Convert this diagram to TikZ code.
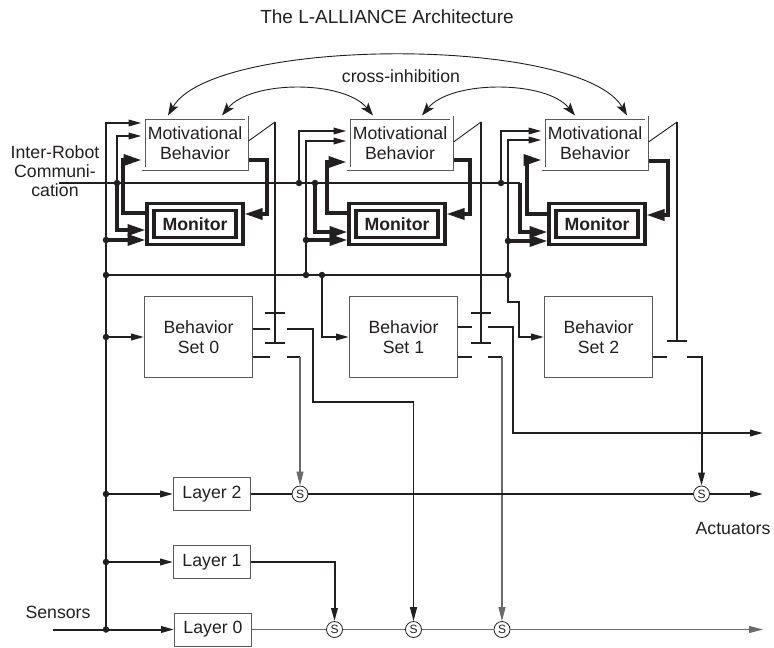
\documentclass[tikz,border=0pt]{standalone}
\usepackage{fontspec}
\setmainfont{Liberation Sans}
\usetikzlibrary{arrows.meta,positioning,calc}
\definecolor{boxgray}{HTML}{5A5A5A}
\definecolor{wiregray}{HTML}{6A6A6A}
\definecolor{inkblack}{HTML}{231F20}

\begin{document}
\begin{tikzpicture}[x=1pt,y=-1pt,
    every node/.style={font=\fontsize{17.7}{20.5}\selectfont,text=inkblack},
    motiv/.style={draw=boxgray,line width=0.8pt,double,double distance=2.4pt,
                  minimum width=103pt,minimum height=51pt,align=center,outer sep=2pt},
    monitor/.style={draw=inkblack,line width=3.4pt,double,double distance=3.4pt,
                    minimum width=89pt,minimum height=34pt,outer sep=5pt,
                    font=\fontsize{17.7}{20.5}\selectfont\bfseries},
    bset/.style={draw=boxgray,line width=0.9pt,minimum width=108pt,minimum height=81pt,align=center},
    layer/.style={draw=boxgray,line width=0.9pt,minimum width=77pt,minimum height=33pt},
    sw/.style={draw=inkblack,circle,line width=0.8pt,minimum size=16pt,inner sep=0pt,
               font=\fontsize{12}{12}\selectfont},
    dot/.style={circle,fill=inkblack,minimum size=6.5pt,inner sep=0pt},
    wire/.style={inkblack,line width=2pt},
    fine/.style={wiregray,line width=1.1pt},
    heavy/.style={inkblack,line width=3.5pt},
    arr/.style={wire,-{Triangle[length=13pt,width=6.5pt]}},
    finearr/.style={fine,-{Triangle[length=14pt,width=7pt]}},
    heavyarr/.style={heavy,-{Triangle[length=18pt,width=11pt]}},
    inhib/.style={inkblack,line width=0.9pt,
                  {Stealth[length=13pt,width=9pt,inset=3pt]}-{Stealth[length=13pt,width=9pt,inset=3pt]}}
  ]
    \path[use as bounding box] (0,0) rectangle (774,648);
    \node[font=\fontsize{19}{22}\selectfont] (title) at (387,17) {The L-ALLIANCE Architecture};

    % motivational behaviors and monitors
    \node[motiv] (mb0) at (195,143) {Motivational\\Behavior};
    \node[motiv] (mb1) at (400,143) {Motivational\\Behavior};
    \node[motiv] (mb2) at (595,143) {Motivational\\Behavior};
    \node[monitor] (mon0) at (195,224) {Monitor};
    \node[monitor] (mon1) at (397,224) {Monitor};
    \node[monitor] (mon2) at (597,224) {Monitor};

    % behavior sets and layers
    \node[bset] (bs0) at (198.5,337) {Behavior\\Set 0};
    \node[bset] (bs1) at (403.5,337) {Behavior\\Set 1};
    \node[bset] (bs2) at (598.5,337) {Behavior\\Set 2};
    \node[layer] (l2) at (212,494) {Layer 2};
    \node[layer] (l1) at (212,562) {Layer 1};
    \node[layer] (l0) at (213,629.5) {Layer 0};

    \node[sw] (s2a) at (300,494) {S};
    \node[sw] (s2b) at (701.5,494) {S};
    \node[sw] (s0a) at (334.5,629.5) {S};
    \node[sw] (s0b) at (413.5,629.5) {S};
    \node[sw] (s0c) at (502,629.5) {S};

    % labels
    \node[align=center,font=\fontsize{17.7}{19}\selectfont] (irc) at (55,171) {Inter-Robot\\Communi-\\cation};
    \node (sens) at (58,612) {Sensors};
    \node (act) at (733,528) {Actuators};
    \node (xinh) at (401,76) {cross-inhibition};

    % junctions
    \node[dot] (sb0) at (106,240) {};
    \node[dot] (sb1) at (106,275) {};
    \node[dot] (sb2) at (106,337) {};
    \node[dot] (sb3) at (106,494) {};
    \node[dot] (sb4) at (106,562) {};
    \node[dot] (sb5) at (106,629.5) {};
    \node[dot] (cm0) at (117,183) {};
    \node[dot] (cm1) at (299,183) {};
    \node[dot] (cm2) at (315,183) {};
    \node[dot] (cm3) at (501,183) {};
    \node[dot] (bu1) at (306,275) {};
    \node[dot] (bu2) at (322,275) {};
    \node[dot] (bu3) at (508,275) {};
    \node[dot] (bu1m) at (306,240) {};
    \node[dot] (bu3m) at (508,241) {};

    \coordinate (commin) at (59,183);
    \coordinate (commend) at (520,183);
    \coordinate (sensin) at (53,629.5);
    \coordinate (sbtop) at (106,123);
    \coordinate (ih0) at (275,122);
    \coordinate (ih1) at (481,122);
    \coordinate (ih2) at (677,122);
    \coordinate (out1) at (763,433);
    \coordinate (out2) at (763,494);
    \coordinate (out0) at (763,629.5);

    % sensor and communication buses
    \draw[arr] (sensin) -- (l0);
    \draw[arr] (sb5.center) -- (sbtop) -- (sbtop -| mb0.west);
    \draw[wire] (commin) -- (commend);
    \draw[wire] (sb1.center) -- (bu3.center);

    % behavior set 0
    \draw[arr] (cm0.center) |- (mb0.west |- 0,136);
    \draw[heavyarr] (cm0.center) |- (mon0.west |- 0,230);
    \draw[heavyarr] (sb0.center) -- (mon0.west |- sb0);
    \draw[arr] (sb2.center) -- (bs0.west |- sb2);
    \draw[heavyarr] (mb0.east |- 0,160) -| (267,214) -- (mon0.east |- 0,214);
    \draw[heavyarr] (mon0.west |- 0,213) -| (123,160) -- (mb0.west |- 0,160);

    % behavior set 1
    \draw[arr] (cm1.center) |- (mb1.west |- 0,131);
    \draw[arr] (bu1.center) |- (mb1.west |- 0,141);
    \draw[heavyarr] (bu1m.center) -- (mon1.west |- bu1m);
    \draw[heavyarr] (cm2.center) |- (mon1.west |- 0,232);
    \draw[arr] (bu2.center) |- (bs1.west |- 0,337);
    \draw[heavyarr] (mb1.east |- 0,160) -| (470,214) -- (mon1.east |- 0,214);
    \draw[heavyarr] (mon1.west |- 0,213) -| (327,162) -- (mb1.west |- 0,162);

    % behavior set 2
    \draw[arr] (cm3.center) |- (mb2.west |- 0,131);
    \draw[arr] (bu3.center) |- (mb2.west |- 0,140);
    \draw[heavyarr] (bu3m.center) -- (mon2.west |- bu3m);
    \draw[heavyarr] (commend) |- (mon2.west |- 0,232);
    \draw[arr] (bu3.center) |- (519,302) |- (bs2.west |- 0,337);
    \draw[heavyarr] (mb2.east |- 0,161) -| (668,215) -- (mon2.east |- 0,215);
    \draw[heavyarr] (mon2.west |- 0,214) -| (527,160) -- (mb2.west |- 0,160);

    % inhibition of the behavior set outputs
    \draw[line width=0.9pt,inkblack] (mb0.east |- 0,141) -- (ih0);
    \draw[line width=0.9pt,inkblack] (mb1.east |- 0,142) -- (ih1);
    \draw[line width=0.9pt,inkblack] (mb2.east |- 0,142) -- (ih2);
    \draw[wire] (ih0) -- (275,343);
    \draw[wire] (ih1) -- (481,343);
    \draw[wire] (ih2) -- (677,341);
    \foreach \x in {275,481} {
      \draw[wire] (\x-10,313) -- (\x+10,313) (\x-10,343) -- (\x+10,343);
    }
    \draw[wire] (667,341) -- (687,341);

    % outputs
    \draw[wire] (bs0.east |- 0,329) -- (270,329);
    \draw[wire] (287,329) -| (313,402) -- (413.5,402);
    \draw[line width=1.4pt,inkblack,-{Triangle[length=14pt,width=7pt]}] (413.5,402) -- (s0b);
    \draw[wire] (bs0.east |- 0,357) -- (270,357);
    \draw[wire] (287,357) -- (300,357);
    \draw[finearr] (300,357) -- (s2a);
    \draw[wire] (bs1.east |- 0,327) -- (472,327);
    \draw[arr] (488,327) -| (513,433) -- (out1);
    \draw[wire] (bs1.east |- 0,357) -- (472,357);
    \draw[wire] (488,357) -- (502,357);
    \draw[finearr] (502,357) -- (s0c);
    \draw[wire] (bs2.east |- 0,357) -- (667,357);
    \draw[arr] (687,357) -| (s2b);

    % layers
    \draw[arr] (sb3.center) -- (l2);
    \draw[arr] (sb4.center) -- (l1);
    \draw[wire] (l2) -- (s2a);
    \draw[wire] (s2a) -- (s2b);
    \draw[arr] (s2b) -- (out2);
    \draw[arr] (l1) -| (s0a);
    \draw[fine] (l0) -- (s0a);
    \draw[fine] (s0a) -- (s0b);
    \draw[fine] (s0b) -- (s0c);
    \draw[finearr] (s0c) -- (out0);

    % cross-inhibition
    \draw[inhib] (168,0 |- mb0.north) .. controls (214,36) and (581,36) .. (627,0 |- mb2.north);
    \draw[inhib] (222,0 |- mb0.north) .. controls (251,80) and (344,80) .. (373,0 |- mb1.north);
    \draw[inhib] (422,0 |- mb1.north) .. controls (451,80) and (546,80) .. (575,0 |- mb2.north);
  \end{tikzpicture}
\end{document}
